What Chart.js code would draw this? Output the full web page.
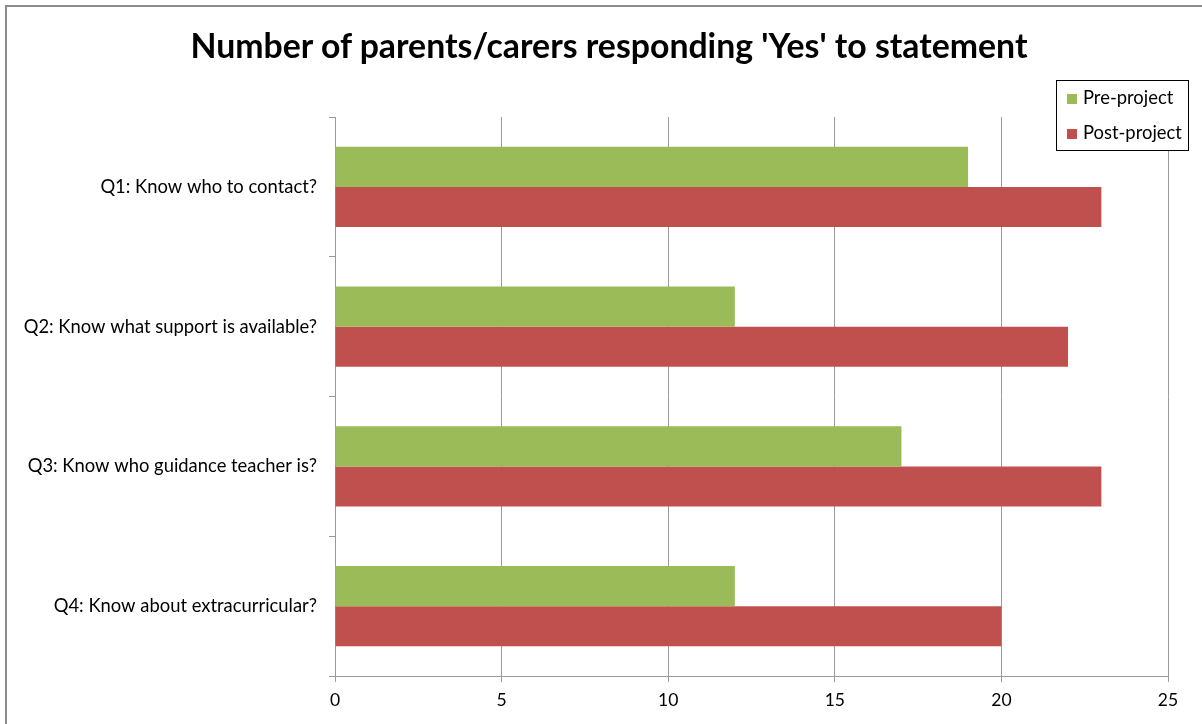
<!DOCTYPE html>
<html>
<head>
<meta charset="utf-8">
<script src="https://cdn.jsdelivr.net/npm/chart.js@4/dist/chart.umd.min.js"></script>
<style>
  html, body { margin: 0; padding: 0; background: #fff; overflow: hidden; }
  #wrap { position: relative; width: 1202px; height: 724px; }
  #frame { position: absolute; left: 5px; top: 5px; width: 1300px; height: 900px; border: 2px solid #8c8c8c; box-sizing: border-box; pointer-events: none; }
  #title { position: absolute; left: 109px; width: 1000px; top: 25px; text-align: center; font-family: Lato, "Open Sans", sans-serif; font-weight: bold; font-size: 33.8px; line-height: 40px; color: #000; white-space: nowrap; }
  #legend { position: absolute; left: 1056px; top: 80px; width: 133px; height: 71px; border: 1px solid #000; box-sizing: border-box; background: #fff; font-family: Lato, "Open Sans", sans-serif; font-size: 18.4px; color: #000; }
  .item { position: absolute; left: 10px; height: 22px; line-height: 22px; white-space: nowrap; }
  .sw { display: inline-block; width: 10px; height: 10px; margin-right: 6px; vertical-align: 0px; }
</style>
</head>
<body>
<div id="wrap">
  <canvas id="c" width="1202" height="724"></canvas>
  <div id="frame"></div>
  <div id="title"></div>
  <div id="legend"></div>
</div>
<script>
const titleText = "Number of parents/carers responding 'Yes' to statement";
const categories = ["Q1: Know who to contact?", "Q2: Know what support is available?", "Q3: Know who guidance teacher is?", "Q4: Know about extracurricular?"];
const seriesNames = ["Pre-project", "Post-project"];
const preProject = [19, 12, 17, 12];
const postProject = [23, 22, 23, 20];
const xTicks = [0, 5, 10, 15, 20, 25];
const colors = ["#9BBB59", "#C0504D"];

document.getElementById('title').textContent = titleText;
const legend = document.getElementById('legend');
seriesNames.forEach((n, i) => {
  const d = document.createElement('div');
  d.className = 'item';
  d.style.top = (i === 0 ? 5 : 40) + 'px';
  d.innerHTML = '<span class="sw" style="background:' + colors[i] + '"></span>' + n;
  legend.appendChild(d);
});

new Chart(document.getElementById('c'), {
  type: 'bar',
  data: {
    labels: categories,
    datasets: [
      { label: seriesNames[0], data: preProject, backgroundColor: colors[0] },
      { label: seriesNames[1], data: postProject, backgroundColor: colors[1] }
    ]
  },
  options: {
    indexAxis: 'y',
    responsive: false,
    animation: false,
    devicePixelRatio: 1,
    categoryPercentage: 0.573,
    barPercentage: 1.0,
    layout: { padding: { left: 0, right: 34, top: 117, bottom: 0 } },
    plugins: {
      legend: { display: false },
      tooltip: { enabled: false },
      title: { display: false }
    },
    scales: {
      x: {
        min: 0, max: 25,
        afterBuildTicks: (s) => { s.ticks = xTicks.map(v => ({ value: v })); },
        afterFit: (s) => { s.height = 48; },
        grid: { color: '#9a9a9a', lineWidth: 1, tickLength: 6, drawTicks: true },
        border: { color: '#9a9a9a', width: 1 },
        ticks: { color: '#000', padding: 8, font: { family: 'Lato, "Open Sans", sans-serif', size: 17.5 } }
      },
      y: {
        afterFit: (s) => { s.width = 335; },
        grid: { offset: true, drawOnChartArea: false, color: '#9a9a9a', tickLength: 6 },
        border: { color: '#9a9a9a', width: 1 },
        ticks: { color: '#000', padding: 12, font: { family: 'Lato, "Open Sans", sans-serif', size: 18.4 } }
      }
    }
  }
});
</script>
</body>
</html>
